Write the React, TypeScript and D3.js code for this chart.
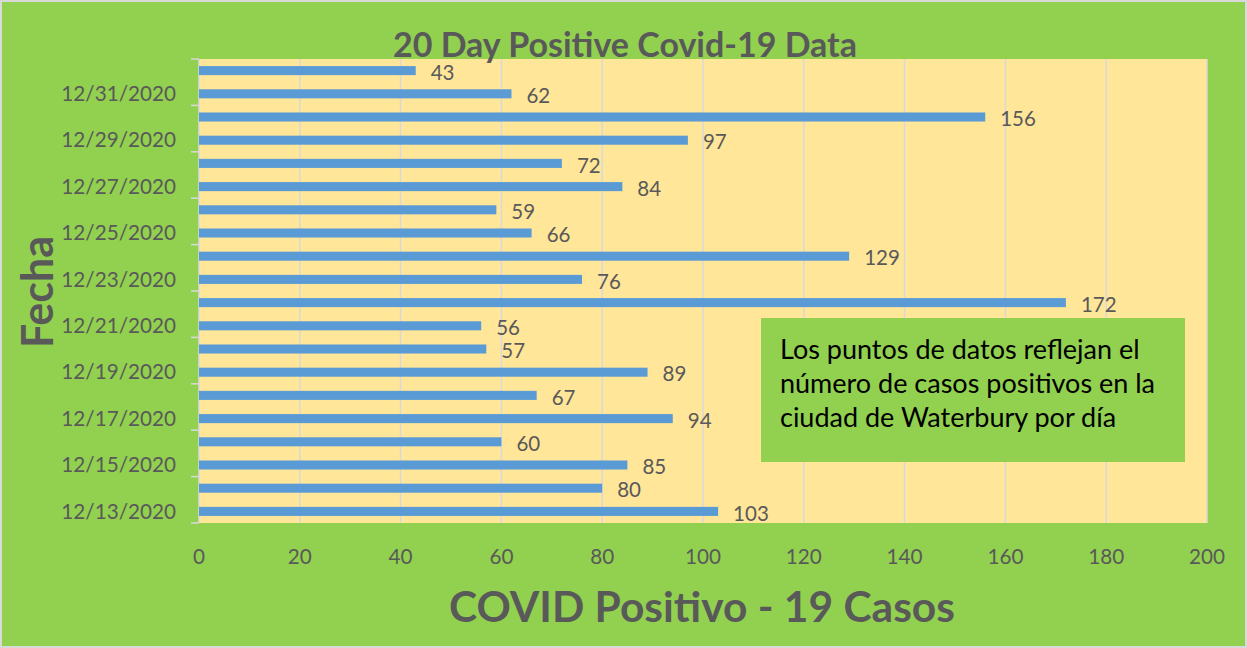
import React, { useEffect, useRef } from "react";
import * as d3 from "d3";

const dates = [
  "12/13/2020", "12/14/2020", "12/15/2020", "12/16/2020", "12/17/2020",
  "12/18/2020", "12/19/2020", "12/20/2020", "12/21/2020", "12/22/2020",
  "12/23/2020", "12/24/2020", "12/25/2020", "12/26/2020", "12/27/2020",
  "12/28/2020", "12/29/2020", "12/30/2020", "12/31/2020", "1/1/2021",
];
const cases = [103, 80, 85, 60, 94, 67, 89, 57, 56, 172, 76, 129, 66, 59, 84, 72, 97, 156, 62, 43];
const xTicks = [0, 20, 40, 60, 80, 100, 120, 140, 160, 180, 200];
const noteLines = [
  "Los puntos de datos reflejan el",
  "número de casos positivos en la",
  "ciudad de Waterbury por día",
];

const W = 1247;
const H = 648;
const FONT = "Lato, 'Open Sans', sans-serif";
const TEXT = "#595959";

const App = () => {
  const ref = useRef<SVGSVGElement>(null);

  useEffect(() => {
    drawChart();
  }, []);

  function drawChart() {
    const svg = d3.select(ref.current);
    svg.selectAll("*").remove();

    const plot = { left: 199, right: 1207, top: 59, bottom: 523 };

    // background
    svg.append("rect")
      .attr("x", 1).attr("y", 1)
      .attr("width", W - 2).attr("height", H - 2)
      .attr("fill", "#92D050")
      .attr("stroke", "#d9d9d9")
      .attr("stroke-width", 2);

    const x = d3.scaleLinear().domain([0, 200]).range([plot.left, plot.right]);
    // first date at the bottom
    const y = d3.scaleBand()
      .domain(dates)
      .range([plot.bottom, plot.top])
      .paddingInner(0.61)
      .paddingOuter(0.305);

    svg.append("rect")
      .attr("x", plot.left).attr("y", plot.top)
      .attr("width", plot.right - plot.left)
      .attr("height", plot.bottom - plot.top)
      .attr("fill", "#FFE699");

    // gridlines
    svg.append("g")
      .selectAll("line")
      .data(xTicks.slice(1))
      .enter()
      .append("line")
      .attr("x1", (d) => x(d)).attr("x2", (d) => x(d))
      .attr("y1", plot.top).attr("y2", plot.bottom)
      .attr("stroke", "#d9d9d9")
      .attr("stroke-width", 1.5);

    // y axis line + ticks every 2 categories
    const step = y.step();
    svg.append("line")
      .attr("x1", plot.left).attr("x2", plot.left)
      .attr("y1", plot.top).attr("y2", plot.bottom)
      .attr("stroke", "#d9d9d9").attr("stroke-width", 1.5);
    const tickYs = d3.range(0, dates.length + 1, 2).map((i) => plot.bottom - i * step);
    svg.append("g")
      .selectAll("line")
      .data(tickYs)
      .enter()
      .append("line")
      .attr("x1", plot.left - 8).attr("x2", plot.left)
      .attr("y1", (d) => d).attr("y2", (d) => d)
      .attr("stroke", "#d9d9d9").attr("stroke-width", 1.5);

    // category labels (every other)
    svg.append("g")
      .selectAll("text")
      .data(dates.filter((_, i) => i % 2 === 0))
      .enter()
      .append("text")
      .attr("x", 176)
      .attr("y", (d) => (y(d) as number) + y.bandwidth() / 2)
      .attr("dy", "0.35em")
      .attr("text-anchor", "end")
      .attr("font-family", FONT)
      .attr("font-size", 20.7)
      .attr("fill", TEXT)
      .text((d) => d);

    // x tick labels
    svg.append("g")
      .selectAll("text")
      .data(xTicks)
      .enter()
      .append("text")
      .attr("x", (d) => x(d))
      .attr("y", 564)
      .attr("text-anchor", "middle")
      .attr("font-family", FONT)
      .attr("font-size", 20.7)
      .attr("fill", TEXT)
      .text((d) => d);

    // bars
    svg.append("g")
      .selectAll("rect")
      .data(cases)
      .enter()
      .append("rect")
      .attr("x", x(0))
      .attr("y", (_, i) => y(dates[i]) as number)
      .attr("width", (d) => x(d) - x(0))
      .attr("height", y.bandwidth())
      .attr("fill", "#5B9BD5");

    // data labels
    svg.append("g")
      .selectAll("text")
      .data(cases)
      .enter()
      .append("text")
      .attr("x", (d) => x(d) + 15)
      .attr("y", (_, i) => (y(dates[i]) as number) + y.bandwidth() / 2 + 2)
      .attr("dy", "0.35em")
      .attr("font-family", FONT)
      .attr("font-size", 20.5)
      .attr("fill", TEXT)
      .text((d) => d);

    // title
    svg.append("text")
      .attr("x", 625).attr("y", 57)
      .attr("text-anchor", "middle")
      .attr("font-family", FONT)
      .attr("font-weight", "bold")
      .attr("font-size", 34)
      .attr("fill", TEXT)
      .text("20 Day Positive Covid-19 Data");

    // axis titles
    svg.append("text")
      .attr("x", 702).attr("y", 622)
      .attr("text-anchor", "middle")
      .attr("font-family", FONT)
      .attr("font-weight", "bold")
      .attr("font-size", 42.5)
      .attr("fill", TEXT)
      .text("COVID Positivo - 19 Casos");

    svg.append("text")
      .attr("transform", "translate(53,292) rotate(-90)")
      .attr("text-anchor", "middle")
      .attr("font-family", FONT)
      .attr("font-weight", "bold")
      .attr("font-size", 43)
      .attr("fill", TEXT)
      .text("Fecha");

    // note box
    const note = svg.append("g");
    note.append("rect")
      .attr("x", 761).attr("y", 318)
      .attr("width", 424).attr("height", 144)
      .attr("fill", "#92D050");
    note.selectAll("text")
      .data(noteLines)
      .enter()
      .append("text")
      .attr("x", 780)
      .attr("y", (_, i) => 359 + i * 34)
      .attr("font-family", FONT)
      .attr("font-size", 27)
      .attr("fill", "#000")
      .text((d) => d);
  }

  return (
    <div style={{ position: "fixed", left: 0, top: 0 }}>
      <svg ref={ref} width={W} height={H} />
    </div>
  );
};

export default App;
